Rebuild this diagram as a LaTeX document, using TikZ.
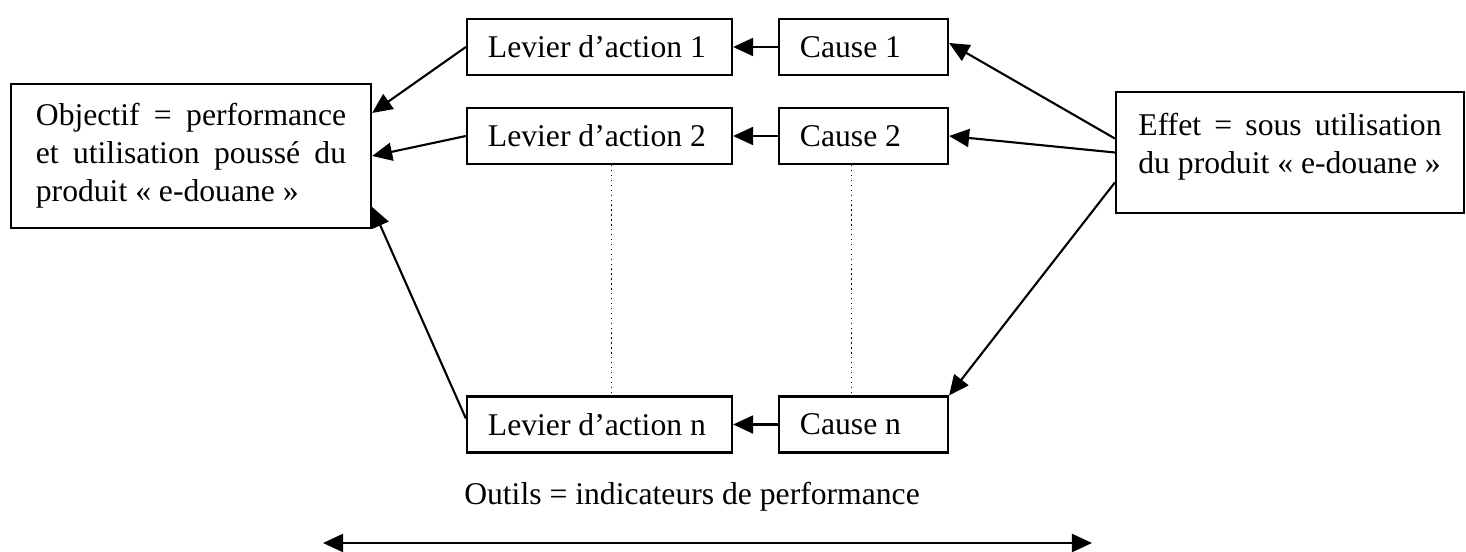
\documentclass[tikz,border=0pt]{standalone}
\usepackage{fontspec}
\setmainfont{Liberation Serif}
\usetikzlibrary{arrows.meta}

\begin{document}
\begin{tikzpicture}[x=0.01cm,y=-0.01cm,font=\fontsize{9}{10.8}\selectfont,
  boite/.style={draw,line width=0.6pt,inner xsep=0.21cm,inner ysep=0pt,align=left},
  levier/.style={boite,minimum height=0.56cm},
  cause/.style={boite,minimum height=0.56cm},
  fleche/.style={line width=0.6pt,-{Triangle[length=0.2cm,width=0.18cm]}},
  pointille/.style={densely dotted,line width=0.4pt}]

\useasboundingbox (0,0) rectangle (1466,552);

%Objectif et effet

\node[boite,inner xsep=0.25cm,minimum width=3.6cm,minimum height=1.44cm] (obj) at (191,156)
  {\makebox[3.1cm][s]{Objectif = performance}\\ \makebox[3.1cm][s]{et utilisation pouss\'e du}\\ \makebox[3.1cm][l]{produit « e-douane »}};
\node[boite,inner xsep=0.22cm,minimum width=3.48cm,minimum height=1.21cm] (eff) at (1290,152.5)
  {\makebox[3.03cm][s]{Effet = sous utilisation}\\ \makebox[3.03cm][l]{du produit « e-douane »}\\[-0.2cm]};

%Leviers et causes

\node[levier] (lev1) at (599.5,47) {\makebox[2.23cm][l]{Levier d’action 1}};
\node[levier] (lev2) at (599.5,136) {\makebox[2.23cm][l]{Levier d’action 2}};
\node[levier] (levn) at (599.5,424.5) {\makebox[2.23cm][l]{Levier d’action n}};

\node[cause] (cau1) at (863.5,47) {\makebox[1.27cm][l]{Cause 1}};
\node[cause] (cau2) at (863.5,136) {\makebox[1.27cm][l]{Cause 2}};
\node[cause] (caun) at (863.5,424.5) {\makebox[1.27cm][l]{Cause n}};

\draw[fleche] (cau1) -- (lev1);
\draw[fleche] (cau2) -- (lev2);
\draw[fleche] (caun) -- (levn);

\draw[fleche] (lev1.west) -- ([yshift=0.43cm]obj.east);
\draw[fleche] (lev2.west) -- (obj.east);
\draw[fleche] ([yshift=0.06cm]levn.west) -- ([yshift=-0.51cm]obj.east);

\draw[fleche] ([yshift=0.14cm]eff.west) -- ([yshift=0.04cm]cau1.east);
\draw[fleche] (eff.west) -- (cau2.east);
\draw[fleche] ([yshift=-0.3cm]eff.west) -- (caun.north east);

\draw[pointille] ([xshift=0.12cm]lev2.south) -- ([xshift=0.12cm]levn.north);
\draw[pointille] ([xshift=-0.12cm]cau2.south) -- ([xshift=-0.12cm]caun.north);

%Outils

\node[anchor=base] (outils) at (692,505) {Outils = indicateurs de performance};
\coordinate (g) at (323,543);
\coordinate (d) at (1092,543);
\draw[line width=0.6pt,{Triangle[length=0.2cm,width=0.18cm]}-{Triangle[length=0.2cm,width=0.18cm]}] (g) -- (d);

\end{tikzpicture}
\end{document}
